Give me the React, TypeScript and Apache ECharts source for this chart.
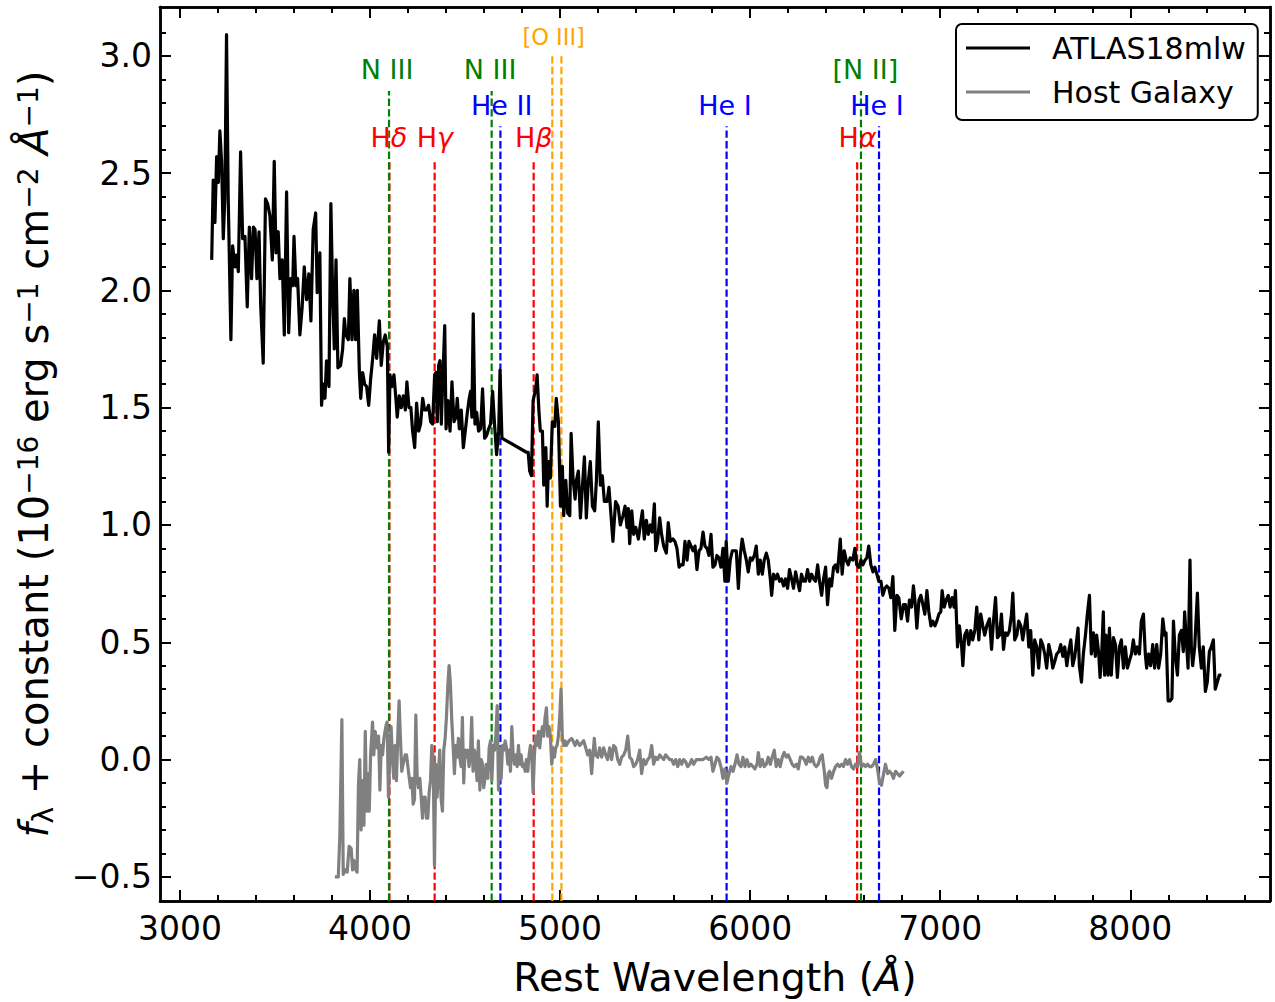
import React, { useEffect, useRef } from "react";
import * as echarts from "echarts";

const FONT = "DejaVu Sans";

const X_MIN = 2895;
const X_MAX = 8735;
const Y_MIN = -0.603;
const Y_MAX = 3.208;

const xMajorTicks = [3000, 4000, 5000, 6000, 7000, 8000];
const xMinorTicks = [3200, 3400, 3600, 3800, 4200, 4400, 4600, 4800, 5200, 5400, 5600, 5800, 6200, 6400, 6600, 6800, 7200, 7400, 7600, 7800, 8200, 8400, 8600];
const yMajorTicks = [-0.5, 0, 0.5, 1, 1.5, 2, 2.5, 3];
const yMinorTicks = [-0.4, -0.3, -0.2, -0.1, 0.1, 0.2, 0.3, 0.4, 0.6, 0.7, 0.8, 0.9, 1.1, 1.2, 1.3, 1.4, 1.6, 1.7, 1.8, 1.9, 2.1, 2.2, 2.3, 2.4, 2.6, 2.7, 2.8, 2.9, 3.1];

const atlasWave = [
  3167, 3175, 3184, 3193, 3202, 3210, 3219, 3228, 3236, 3245, 3254, 3268, 3277, 3290, 3298, 3307, 3319, 3330, 3342, 3354,
  3365, 3377, 3386, 3395, 3405, 3416, 3425, 3438, 3450, 3461, 3473, 3486, 3496, 3505, 3517, 3526, 3538, 3549, 3561, 3572,
  3582, 3593, 3600, 3610, 3619, 3631, 3643, 3654, 3666, 3678, 3689, 3701, 3714, 3722, 3736, 3745, 3754, 3763, 3771, 3784,
  3794, 3803, 3812, 3821, 3831, 3845, 3856, 3865, 3873, 3886, 3894, 3905, 3915, 3924, 3933, 3944, 3951, 3961, 3972, 3982,
  3993, 4003, 4014, 4024, 4035, 4049, 4059, 4070, 4080, 4091, 4098, 4105, 4115, 4126, 4136, 4143, 4154, 4164, 4175, 4186,
  4194, 4205, 4215, 4224, 4235, 4245, 4256, 4266, 4277, 4287, 4298, 4308, 4319, 4329, 4340, 4347, 4354, 4361, 4368, 4375,
  4382, 4393, 4400, 4410, 4421, 4431, 4442, 4452, 4459, 4470, 4480, 4491, 4501, 4512, 4522, 4529, 4536, 4543, 4552, 4561,
  4571, 4582, 4592, 4603, 4613, 4624, 4634, 4645, 4655, 4666, 4677, 4684, 4694, 4823, 4832, 4840, 4849, 4858, 4872, 4879,
  4889, 4896, 4907, 4914, 4925, 4932, 4939, 4949, 4959, 4972, 4980, 4991, 5002, 5012, 5019, 5030, 5040, 5051, 5058, 5068,
  5079, 5086, 5096, 5107, 5117, 5128, 5138, 5149, 5159, 5170, 5182, 5191, 5201, 5212, 5222, 5233, 5247, 5257, 5268, 5278,
  5292, 5305, 5317, 5331, 5342, 5352, 5359, 5366, 5377, 5387, 5398, 5412, 5422, 5433, 5443, 5454, 5464, 5475, 5485, 5496,
  5503, 5513, 5524, 5534, 5545, 5559, 5569, 5580, 5594, 5604, 5615, 5626, 5636, 5647, 5657, 5668, 5678, 5689, 5699, 5710,
  5720, 5731, 5741, 5752, 5762, 5773, 5783, 5794, 5804, 5815, 5825, 5836, 5846, 5857, 5867, 5874, 5885, 5895, 5906, 5916,
  5927, 5938, 5948, 5958, 5969, 5980, 5990, 6001, 6011, 6022, 6032, 6043, 6053, 6064, 6074, 6085, 6095, 6106, 6113, 6123,
  6134, 6144, 6155, 6165, 6176, 6186, 6197, 6207, 6218, 6228, 6239, 6249, 6260, 6270, 6281, 6291, 6302, 6313, 6323, 6334,
  6344, 6355, 6365, 6376, 6386, 6397, 6407, 6418, 6428, 6439, 6449, 6460, 6474, 6484, 6495, 6505, 6516, 6526, 6540, 6551,
  6561, 6572, 6583, 6593, 6604, 6614, 6624, 6635, 6646, 6656, 6667, 6677, 6688, 6698, 6709, 6719, 6730, 6740, 6751, 6761,
  6772, 6782, 6795, 6807, 6817, 6828, 6838, 6849, 6859, 6870, 6877, 6888, 6898, 6909, 6919, 6930, 6940, 6951, 6961, 6972,
  6982, 6993, 7003, 7010, 7021, 7031, 7042, 7052, 7063, 7073, 7080, 7091, 7101, 7112, 7119, 7129, 7140, 7150, 7161, 7171,
  7182, 7192, 7203, 7213, 7224, 7234, 7245, 7259, 7270, 7280, 7291, 7301, 7312, 7322, 7333, 7343, 7354, 7364, 7375, 7382,
  7392, 7403, 7413, 7424, 7434, 7445, 7455, 7466, 7476, 7487, 7497, 7508, 7518, 7529, 7539, 7550, 7560, 7571, 7582, 7592,
  7603, 7613, 7624, 7634, 7645, 7655, 7666, 7676, 7687, 7697, 7708, 7715, 7725, 7732, 7743, 7753, 7764, 7774, 7785, 7795,
  7806, 7816, 7823, 7834, 7841, 7848, 7858, 7865, 7872, 7883, 7890, 7900, 7911, 7922, 7932, 7943, 7953, 7964, 7974, 7985,
  7995, 8006, 8016, 8027, 8037, 8048, 8058, 8069, 8079, 8086, 8097, 8107, 8118, 8128, 8139, 8149, 8160, 8171, 8181, 8188,
  8199, 8209, 8219, 8227, 8237, 8248, 8258, 8269, 8279, 8286, 8293, 8304, 8314, 8321, 8328, 8339, 8353, 8363, 8374, 8384,
  8395, 8405, 8416, 8426, 8437, 8447, 8458, 8468, 8479,
];
const atlasFlux = [
  2.13, 2.47, 2.29, 2.57, 2.46, 2.68, 2.55, 2.22, 2.39, 3.09, 2.39, 1.79, 2.19, 2.10, 2.15, 2.08, 2.59, 2.22, 2.23, 1.93,
  2.27, 2.05, 2.27, 2.26, 2.05, 2.25, 1.93, 1.69, 2.39, 2.37, 2.32, 2.13, 2.55, 2.16, 2.25, 2.05, 2.13, 1.81, 2.42, 1.82,
  2.05, 2.02, 2.23, 2.02, 2.05, 1.81, 1.93, 2.10, 1.96, 2.07, 1.87, 2.26, 2.33, 1.99, 2.16, 1.51, 1.60, 1.54, 1.70, 1.59,
  2.37, 2.00, 1.75, 2.13, 1.67, 1.68, 1.75, 1.88, 1.81, 1.79, 2.05, 1.79, 2.00, 1.79, 2.00, 1.65, 1.54, 1.65, 1.60, 1.59,
  1.51, 1.62, 1.71, 1.81, 1.71, 1.87, 1.68, 1.78, 1.81, 1.76, 1.31, 1.64, 1.59, 1.64, 1.54, 1.46, 1.55, 1.50, 1.55, 1.49,
  1.61, 1.50, 1.50, 1.40, 1.33, 1.52, 1.40, 1.43, 1.54, 1.49, 1.49, 1.51, 1.44, 1.43, 1.64, 1.65, 1.44, 1.68, 1.70, 1.43,
  1.60, 1.85, 1.41, 1.53, 1.40, 1.61, 1.44, 1.46, 1.54, 1.41, 1.49, 1.33, 1.40, 1.48, 1.54, 1.57, 1.46, 1.90, 1.43, 1.48,
  1.40, 1.41, 1.58, 1.37, 1.38, 1.41, 1.43, 1.57, 1.43, 1.30, 1.40, 1.66, 1.37, 1.31, 1.31, 1.23, 1.21, 1.53, 1.58, 1.64,
  1.48, 1.40, 1.40, 1.17, 1.33, 1.08, 1.27, 1.20, 1.44, 1.42, 1.54, 1.44, 1.08, 1.25, 1.04, 1.19, 1.05, 1.04, 1.39, 1.20,
  1.11, 1.19, 1.23, 1.03, 1.16, 1.29, 1.03, 1.19, 1.27, 1.08, 1.06, 1.19, 1.44, 1.17, 1.21, 1.10, 1.10, 1.16, 1.04, 0.93,
  1.10, 1.08, 1.00, 1.04, 1.08, 0.99, 1.07, 0.92, 1.06, 0.96, 0.99, 0.94, 1.00, 1.06, 0.94, 1.02, 0.96, 1.00, 0.97, 1.09,
  0.89, 0.93, 1.03, 0.96, 0.91, 0.88, 1.01, 0.93, 0.94, 0.93, 0.90, 0.82, 0.83, 0.83, 0.93, 0.85, 0.93, 0.91, 0.89, 0.91,
  0.81, 0.89, 0.90, 0.97, 0.91, 0.90, 0.87, 0.96, 0.82, 0.83, 0.87, 0.86, 0.82, 0.90, 0.76, 0.93, 0.76, 0.85, 0.89, 0.89,
  0.89, 0.73, 0.87, 0.94, 0.89, 0.85, 0.80, 0.86, 0.85, 0.87, 0.91, 0.79, 0.85, 0.79, 0.85, 0.88, 0.85, 0.77, 0.70, 0.79,
  0.77, 0.79, 0.76, 0.77, 0.74, 0.77, 0.73, 0.81, 0.77, 0.73, 0.80, 0.76, 0.72, 0.79, 0.76, 0.76, 0.81, 0.76, 0.79, 0.77,
  0.76, 0.83, 0.76, 0.70, 0.77, 0.82, 0.66, 0.77, 0.74, 0.82, 0.83, 0.80, 0.94, 0.79, 0.89, 0.85, 0.83, 0.86, 0.85, 0.90,
  0.83, 0.82, 0.85, 0.83, 0.85, 0.86, 0.91, 0.83, 0.80, 0.82, 0.79, 0.76, 0.76, 0.70, 0.73, 0.74, 0.73, 0.69, 0.78, 0.55,
  0.70, 0.69, 0.60, 0.66, 0.66, 0.59, 0.68, 0.65, 0.74, 0.65, 0.56, 0.68, 0.70, 0.66, 0.62, 0.72, 0.63, 0.57, 0.59, 0.57,
  0.59, 0.62, 0.63, 0.72, 0.65, 0.68, 0.70, 0.65, 0.69, 0.65, 0.72, 0.48, 0.57, 0.49, 0.40, 0.53, 0.55, 0.49, 0.55, 0.51,
  0.55, 0.65, 0.51, 0.62, 0.57, 0.53, 0.57, 0.60, 0.47, 0.59, 0.69, 0.52, 0.53, 0.62, 0.47, 0.54, 0.53, 0.55, 0.62, 0.71,
  0.51, 0.53, 0.59, 0.57, 0.51, 0.57, 0.62, 0.48, 0.55, 0.36, 0.51, 0.48, 0.39, 0.51, 0.49, 0.45, 0.39, 0.49, 0.45, 0.39,
  0.42, 0.45, 0.46, 0.49, 0.44, 0.48, 0.40, 0.46, 0.51, 0.40, 0.44, 0.49, 0.56, 0.40, 0.33, 0.45, 0.53, 0.62, 0.70, 0.45,
  0.54, 0.44, 0.53, 0.45, 0.35, 0.42, 0.63, 0.36, 0.53, 0.36, 0.56, 0.36, 0.52, 0.49, 0.35, 0.48, 0.51, 0.39, 0.48, 0.39,
  0.42, 0.45, 0.51, 0.45, 0.48, 0.45, 0.59, 0.62, 0.45, 0.39, 0.45, 0.40, 0.49, 0.39, 0.49, 0.39, 0.45, 0.60, 0.53, 0.54,
  0.25, 0.25, 0.26, 0.59, 0.44, 0.36, 0.53, 0.55, 0.46, 0.63, 0.53, 0.39, 0.85, 0.48, 0.40, 0.48, 0.71, 0.48, 0.39, 0.48,
  0.29, 0.33, 0.46, 0.48, 0.51, 0.30, 0.33, 0.36, 0.36,
];

const hostWave = [
  3815, 3833, 3841, 3852, 3859, 3869, 3880, 3890, 3901, 3908, 3915, 3925, 3932, 3939, 3946, 3953, 3961, 3968, 3975, 3982,
  3989, 3996, 4003, 4013, 4020, 4027, 4038, 4045, 4052, 4059, 4066, 4073, 4083, 4090, 4097, 4104, 4111, 4118, 4125, 4132,
  4139, 4146, 4153, 4160, 4167, 4174, 4185, 4192, 4202, 4213, 4220, 4227, 4234, 4241, 4248, 4255, 4262, 4269, 4276, 4283,
  4290, 4297, 4304, 4311, 4318, 4325, 4332, 4339, 4346, 4353, 4360, 4367, 4374, 4381, 4388, 4395, 4402, 4409, 4416, 4423,
  4430, 4437, 4444, 4451, 4458, 4465, 4472, 4479, 4486, 4493, 4500, 4507, 4514, 4521, 4528, 4535, 4542, 4549, 4556, 4563,
  4570, 4578, 4585, 4592, 4598, 4605, 4612, 4620, 4627, 4634, 4641, 4648, 4655, 4662, 4669, 4676, 4683, 4690, 4697, 4704,
  4711, 4718, 4725, 4732, 4739, 4746, 4753, 4760, 4767, 4774, 4781, 4788, 4795, 4802, 4809, 4816, 4823, 4830, 4837, 4844,
  4851, 4858, 4865, 4872, 4879, 4886, 4893, 4900, 4907, 4914, 4921, 4928, 4935, 4942, 4949, 4956, 4963, 4970, 4977, 4984,
  4991, 4998, 5005, 5012, 5019, 5026, 5033, 5047, 5061, 5068, 5079, 5089, 5103, 5114, 5124, 5135, 5145, 5156, 5166, 5173,
  5180, 5187, 5198, 5208, 5219, 5229, 5240, 5250, 5261, 5271, 5282, 5292, 5303, 5314, 5324, 5335, 5345, 5356, 5366, 5377,
  5387, 5398, 5408, 5419, 5429, 5440, 5450, 5461, 5471, 5482, 5492, 5503, 5513, 5524, 5534, 5545, 5555, 5566, 5576, 5587,
  5597, 5608, 5619, 5629, 5640, 5650, 5661, 5671, 5682, 5692, 5703, 5717, 5731, 5752, 5769, 5783, 5794, 5804, 5815, 5825,
  5836, 5846, 5857, 5867, 5878, 5889, 5899, 5910, 5920, 5931, 5941, 5952, 5962, 5973, 5983, 5994, 6004, 6015, 6025, 6036,
  6043, 6053, 6064, 6074, 6085, 6095, 6106, 6116, 6127, 6137, 6148, 6158, 6169, 6179, 6190, 6200, 6211, 6221, 6232, 6243,
  6253, 6264, 6274, 6285, 6295, 6306, 6316, 6327, 6337, 6348, 6358, 6369, 6379, 6390, 6397, 6404, 6411, 6418, 6428, 6439,
  6449, 6460, 6470, 6481, 6491, 6502, 6512, 6523, 6533, 6544, 6554, 6565, 6575, 6586, 6597, 6607, 6618, 6628, 6639, 6649,
  6660, 6670, 6681, 6691, 6702, 6712, 6723, 6733, 6744, 6754, 6765, 6775, 6786, 6796, 6807,
];
const hostFlux = [
  -0.50, -0.50, -0.33, 0.17, -0.49, -0.47, -0.48, -0.37, -0.38, -0.47, -0.43, -0.47, -0.48, -0.11, 0.00, -0.30, -0.09, -0.28, 0.12, -0.22,
  -0.06, -0.22, 0.02, 0.16, 0.02, 0.12, 0.05, 0.10, -0.13, 0.06, 0.02, 0.09, 0.14, 0.16, -0.16, 0.02, 0.14, 0.00, -0.08, 0.06,
  -0.09, 0.10, 0.25, 0.09, -0.05, -0.02, 0.02, 0.02, -0.05, -0.12, -0.08, -0.19, -0.17, 0.19, -0.08, -0.12, -0.08, -0.16, -0.25, -0.16,
  -0.16, -0.25, -0.25, -0.14, -0.09, 0.06, 0.01, -0.45, -0.02, -0.16, -0.05, 0.04, -0.17, -0.22, 0.04, 0.09, 0.18, 0.31, 0.40, 0.32,
  0.17, 0.06, -0.06, 0.06, 0.01, 0.09, 0.01, -0.03, 0.18, -0.10, 0.04, 0.01, 0.04, -0.03, 0.02, 0.18, -0.05, 0.04, 0.01, -0.09,
  0.08, -0.13, 0.00, -0.02, -0.12, -0.08, -0.02, -0.08, 0.05, 0.08, -0.09, 0.06, 0.04, 0.10, 0.23, -0.13, 0.05, -0.08, 0.06, 0.04,
  0.08, 0.05, -0.02, 0.04, -0.05, 0.14, 0.02, -0.02, 0.02, -0.03, 0.06, -0.02, 0.02, -0.03, -0.02, -0.05, 0.00, -0.05, 0.02, 0.06,
  0.02, -0.14, 0.02, 0.10, 0.06, 0.12, 0.05, 0.11, 0.14, 0.10, 0.18, 0.22, 0.10, 0.14, 0.10, -0.02, 0.05, 0.01, 0.05, 0.06,
  0.10, 0.18, 0.30, 0.09, 0.06, 0.08, 0.06, 0.08, 0.09, 0.08, 0.06, 0.08, 0.06, 0.07, 0.08, 0.05, 0.02, 0.04, -0.06, 0.02,
  0.09, 0.02, 0.01, 0.05, 0.01, 0.05, 0.02, 0.00, 0.05, 0.00, 0.06, 0.05, 0.00, -0.02, 0.01, 0.02, 0.04, 0.10, 0.01, 0.00,
  -0.03, -0.02, 0.00, 0.04, -0.06, 0.00, -0.02, 0.00, 0.01, 0.06, -0.02, 0.01, 0.00, 0.02, 0.01, 0.00, 0.02, 0.01, 0.00, 0.00,
  -0.02, 0.00, -0.03, 0.00, -0.02, 0.00, -0.01, -0.03, -0.02, 0.00, -0.02, 0.00, 0.00, 0.00, 0.01, 0.00, 0.01, -0.05, -0.02, 0.01,
  0.00, -0.03, -0.08, -0.04, -0.10, -0.06, -0.03, -0.05, -0.02, 0.02, -0.02, -0.03, 0.01, -0.03, 0.00, -0.03, -0.02, -0.03, -0.04, -0.02,
  0.03, -0.03, 0.00, -0.03, -0.02, 0.01, -0.02, 0.01, 0.04, -0.03, 0.00, -0.03, 0.01, 0.03, 0.01, 0.02, 0.00, -0.02, -0.03, -0.02,
  -0.04, 0.01, 0.01, 0.00, -0.02, 0.01, -0.01, 0.01, -0.02, -0.03, -0.02, 0.01, 0.02, -0.05, -0.11, -0.12, -0.06, -0.05, -0.08, -0.05,
  -0.03, -0.02, -0.03, -0.02, -0.03, 0.00, -0.02, 0.00, -0.03, -0.04, -0.02, -0.03, 0.03, -0.03, -0.02, -0.03, -0.02, -0.03, -0.03, -0.02,
  0.00, -0.04, -0.10, -0.11, -0.06, -0.02, -0.06, -0.05, -0.06, -0.08, -0.05, -0.06, -0.07, -0.06, -0.05,
];

// Spectral line markers (rest wavelengths, Å) and the flux where each dashed line stops
const markerWaves = [4102, 4340, 4861, 6563, 4100, 4640, 6583, 4686, 5876, 6678, 4959, 5007];
const markerKinds = ["H", "H", "H", "H", "N", "N", "N", "He", "He", "He", "O", "O"];
const markerTops = [2.55, 2.55, 2.55, 2.55, 2.85, 2.85, 2.85, 2.7, 2.7, 2.7, 3.01, 3.01];

// Line identification labels
const labelTexts = ["N III", "N III", "He II", "Hδ", "Hγ", "Hβ", "[O III]", "He I", "[N II]", "He I", "Hα"];
const labelKinds = ["N", "N", "He", "H", "H", "H", "O", "He", "N", "He", "H"];
const labelWaves = [4090, 4632, 4693, 4099, 4341, 4861, 4966, 5867, 6606, 6667, 6565];
const labelFluxes = [2.94, 2.94, 2.79, 2.65, 2.65, 2.65, 3.08, 2.79, 2.94, 2.79, 2.65];

const KIND_COLORS: Record<string, string> = {
  H: "#ff0000",
  N: "#008000",
  He: "#0000ff",
  O: "#ffa500",
};

function xAxisDef(position: string, ticks: number[], len: number, showLabel: boolean, extra: any = {}) {
  return {
    type: "value",
    gridIndex: 0,
    position,
    min: X_MIN,
    max: X_MAX,
    axisLine: { show: true, onZero: false, lineStyle: { color: "#000", width: 2.5 } },
    axisTick: { show: true, inside: true, length: len, customValues: ticks, lineStyle: { color: "#000", width: 2 } },
    axisLabel: {
      show: showLabel,
      customValues: ticks,
      margin: 11,
      fontSize: 33,
      fontFamily: FONT,
      color: "#000",
      formatter: (v: number) => String(Math.round(v)),
    },
    splitLine: { show: false },
    minorTick: { show: false },
    ...extra,
  };
}

function yAxisDef(position: string, ticks: number[], len: number, showLabel: boolean, extra: any = {}) {
  return {
    type: "value",
    gridIndex: 0,
    position,
    min: Y_MIN,
    max: Y_MAX,
    axisLine: { show: true, onZero: false, lineStyle: { color: "#000", width: 2.5 } },
    axisTick: { show: true, inside: true, length: len, customValues: ticks, lineStyle: { color: "#000", width: 2 } },
    axisLabel: {
      show: showLabel,
      customValues: ticks,
      margin: 8,
      fontSize: 33,
      fontFamily: FONT,
      color: "#000",
      formatter: (v: number) => v.toFixed(1).replace("-", "\u2212"),
    },
    splitLine: { show: false },
    minorTick: { show: false },
    ...extra,
  };
}

function labelFormatter(t: string) {
  if (t.length === 2 && /[α-ω]/.test(t[1])) return `{rm|${t[0]}}{it|${t[1]}}`;
  return `{rm|${t}}`;
}

export default function App() {
  const ref = useRef<HTMLDivElement>(null);

  useEffect(() => {
    document.body.style.margin = "0";
    if (!ref.current) return;
    const chart = echarts.init(ref.current, null, { renderer: "svg" });

    const markerSeries = markerWaves.map((w, i) => ({
      type: "line",
      xAxisIndex: 0,
      yAxisIndex: 0,
      data: [
        [w, Y_MIN],
        [w, markerTops[i]],
      ],
      symbol: "none",
      silent: true,
      z: 2,
      legendHoverLink: false,
      lineStyle: { color: KIND_COLORS[markerKinds[i]], width: 2.2, type: [7.4, 3.2] },
      emphasis: { disabled: true },
    }));

    const labelSeries = {
      type: "scatter",
      xAxisIndex: 0,
      yAxisIndex: 0,
      symbolSize: 1,
      silent: true,
      z: 6,
      itemStyle: { color: "rgba(0,0,0,0)" },
      data: labelTexts.map((t, i) => {
        const color = KIND_COLORS[labelKinds[i]];
        const size = labelKinds[i] === "O" ? 22.5 : 27;
        return {
          value: [labelWaves[i], labelFluxes[i]],
          label: {
            show: true,
            position: "inside",
            formatter: labelFormatter(t),
            color,
            textBorderWidth: 0,
            textBorderColor: "rgba(0,0,0,0)",
            textShadowBlur: 0,
            opacity: 1,
            rich: {
              rm: { fontSize: size, color, fontFamily: FONT, textBorderWidth: 0 },
              it: { fontSize: size, color, fontFamily: FONT, fontStyle: "italic", textBorderWidth: 0 },
            },
          },
        };
      }),
    };

    const option: any = {
      animation: false,
      backgroundColor: "#fff",
      grid: { left: 160, right: 5, top: 7, bottom: 98, containLabel: false },
      legend: {
        data: [
          { name: "ATLAS18mlw", icon: "rect", itemStyle: { color: "#000", borderWidth: 0 } },
          { name: "Host Galaxy", icon: "rect", itemStyle: { color: "#808080", borderWidth: 0 } },
        ],
        orient: "vertical",
        left: 956,
        top: 24,
        itemWidth: 64,
        itemHeight: 3,
        itemGap: 14,
        padding: [9, 12, 13, 10],
        borderColor: "#000",
        borderWidth: 2,
        borderRadius: 6,
        backgroundColor: "#fff",
        selectedMode: false,
        itemStyle: { borderWidth: 0 },
        textStyle: { fontSize: 30, fontFamily: FONT, color: "#000", lineHeight: 30, padding: [0, 0, 0, 17] },
        z: 10,
      },
      xAxis: [
        xAxisDef("bottom", xMajorTicks, 11, true, {
          name: "Rest Wavelength ({it|Å})",
          nameLocation: "middle",
          nameGap: 56,
          nameTextStyle: {
            fontSize: 39.5,
            fontFamily: FONT,
            color: "#000",
            rich: { it: { fontSize: 39.5, fontFamily: FONT, color: "#000", fontStyle: "italic" } },
          },
        }),
        xAxisDef("bottom", xMinorTicks, 6, false),
        xAxisDef("top", xMajorTicks, 11, false),
        xAxisDef("top", xMinorTicks, 6, false),
      ],
      yAxis: [
        yAxisDef("left", yMajorTicks, 11, true, {
          name:
            "{it|f}{sub|λ}{rm| + constant (10}{sup|\u221216}{rm| erg s}{sup|\u22121}{rm| cm}{sup|\u22122}{rm| }{it|Å}{sup|\u22121}{rm|)}",
          nameLocation: "middle",
          nameRotate: 90,
          nameGap: 103,
          nameTextStyle: {
            fontSize: 40,
            fontFamily: FONT,
            color: "#000",
            rich: {
              rm: { fontSize: 40, fontFamily: FONT, color: "#000" },
              it: { fontSize: 40, fontFamily: FONT, color: "#000", fontStyle: "italic" },
              sup: { fontSize: 28, fontFamily: FONT, color: "#000", padding: [0, 0, 11, 0] },
              sub: { fontSize: 28, fontFamily: FONT, color: "#000", padding: [18, 0, 0, 0] },
            },
          },
        }),
        yAxisDef("left", yMinorTicks, 6, false),
        yAxisDef("right", yMajorTicks, 11, false),
        yAxisDef("right", yMinorTicks, 6, false),
      ],
      series: [
        ...markerSeries,
        {
          name: "ATLAS18mlw",
          type: "line",
          xAxisIndex: 0,
          yAxisIndex: 0,
          data: atlasWave.map((w, i) => [w, atlasFlux[i]]),
          symbol: "none",
          z: 4,
          itemStyle: { color: "#000" },
          lineStyle: { color: "#000", width: 3.2, join: "round" },
          emphasis: { disabled: true },
        },
        {
          name: "Host Galaxy",
          type: "line",
          xAxisIndex: 0,
          yAxisIndex: 0,
          data: hostWave.map((w, i) => [w, hostFlux[i]]),
          symbol: "none",
          z: 4,
          itemStyle: { color: "#808080" },
          lineStyle: { color: "#808080", width: 3.2, join: "round" },
          emphasis: { disabled: true },
        },
        labelSeries,
      ],
    };

    chart.setOption(option);
    return () => chart.dispose();
  }, []);

  return <div ref={ref} style={{ position: "absolute", left: 0, top: 0, width: 1275, height: 1002 }} />;
}
